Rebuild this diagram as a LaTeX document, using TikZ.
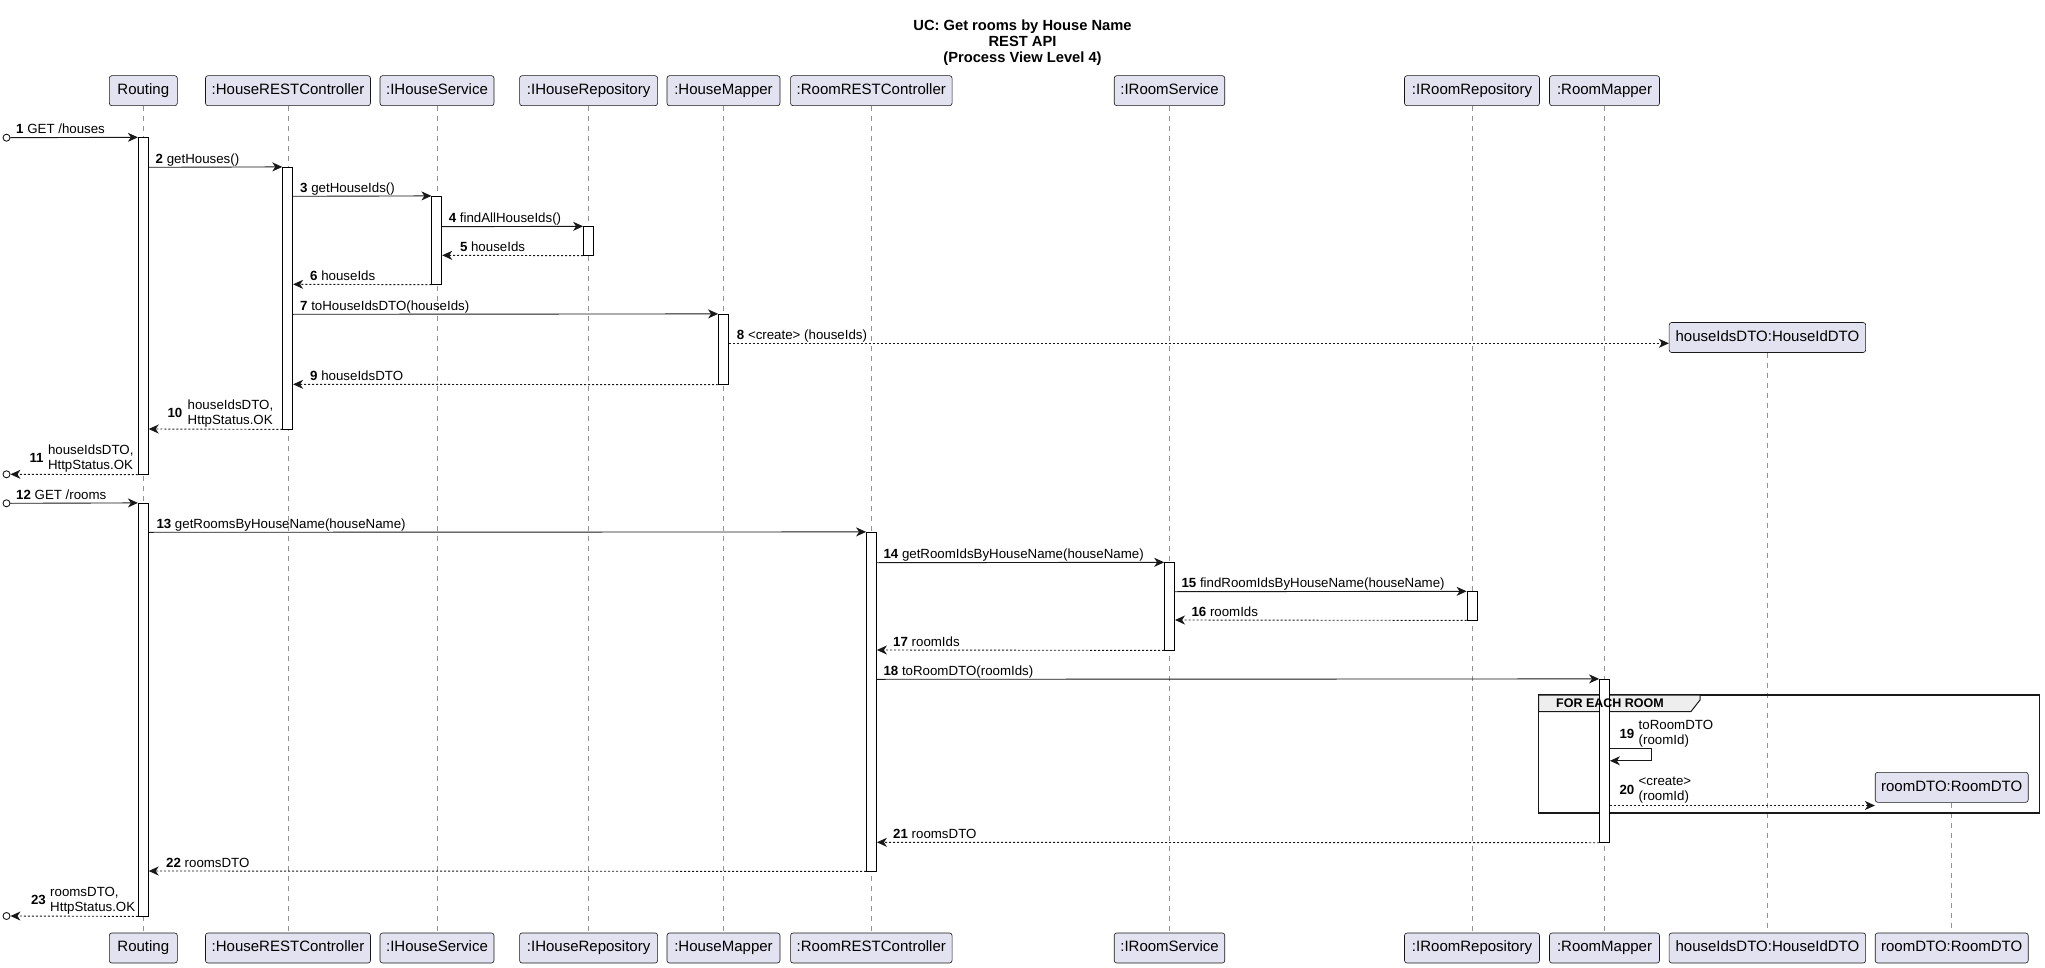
\documentclass[tikz,border=0pt]{standalone}
\usepackage{fontspec}
\setmainfont{Liberation Sans}
\usetikzlibrary{arrows.meta}

\definecolor{partfill}{RGB}{226,226,240}
\definecolor{partline}{RGB}{24,24,24}
\definecolor{tabfill}{RGB}{238,238,238}

% activation bar: name, x, top, bottom
\newcommand{\actbar}[4]{%
    \node[actbox, minimum height={#4-#3}] (#1) at (#2,{(#3+#4)/2}) {};}

\begin{document}
\begin{tikzpicture}[x=1pt, y=-1pt,
    part/.style={draw=partline, fill=partfill, rounded corners=2.5pt,
        line width=0.6pt, minimum height=30pt, inner sep=0pt,
        text height=10.8pt, text depth=3.2pt,
        font=\fontsize{15}{18}\selectfont},
    lifeline/.style={draw=gray!85, dash pattern=on 5pt off 5pt, line width=0.7pt},
    actbox/.style={draw=black, fill=white, minimum width=10pt, inner sep=0pt,
        line width=0.8pt},
    msg/.style={-{Stealth[length=10pt,width=9pt,inset=3pt]}, line width=0.9pt,
        draw=partline},
    ret/.style={msg, dash pattern=on 2pt off 2pt},
    lbl/.style={font=\fontsize{13.3}{15}\selectfont, inner sep=0pt, anchor=base west},
    mlbl/.style={font=\fontsize{13.3}{15}\selectfont, inner sep=0pt,
        anchor=south west, align=left},
    num/.style={font=\fontsize{13.3}{15}\selectfont\bfseries, inner sep=0pt, anchor=east},
    endpt/.style={circle, draw=partline, fill=white, minimum size=7pt, inner sep=0pt,
        line width=0.9pt}]

    \useasboundingbox (0,0) rectangle (2045,968);

    \node[font=\fontsize{14.7}{16.3}\selectfont\bfseries, align=center, anchor=north,
        inner sep=0pt] (title) at (1022.5,19.3)
        {UC: Get rooms by House Name\\REST API\\(Process View Level 4)};

    % participants, top and bottom
    \node[part, minimum width=68] (rout) at (143.3,90.7) {Routing};
    \node[part, minimum width=165] (hctl) at (288,90.7) {:HouseRESTController};
    \node[part, minimum width=114] (hsrv) at (437,90.7) {:IHouseService};
    \node[part, minimum width=138] (hrepo) at (588.6,90.7) {:IHouseRepository};
    \node[part, minimum width=113] (hmap) at (723.5,90.7) {:HouseMapper};
    \node[part, minimum width=161.5] (rctl) at (871.3,90.7) {:RoomRESTController};
    \node[part, minimum width=110.5] (rsrv) at (1169.5,90.7) {:IRoomService};
    \node[part, minimum width=135] (rrepo) at (1472,90.7) {:IRoomRepository};
    \node[part, minimum width=110] (rmap) at (1604.5,90.7) {:RoomMapper};
    \node[part, minimum width=196.5] (hdto) at (1767.4,337.5) {houseIdsDTO:HouseIdDTO};
    \node[part, minimum width=153] (rdto) at (1951.7,787.3) {roomDTO:RoomDTO};

    \node[part, minimum width=68] (routb) at (143.3,948) {Routing};
    \node[part, minimum width=165] (hctlb) at (288,948) {:HouseRESTController};
    \node[part, minimum width=114] (hsrvb) at (437,948) {:IHouseService};
    \node[part, minimum width=138] (hrepob) at (588.6,948) {:IHouseRepository};
    \node[part, minimum width=113] (hmapb) at (723.5,948) {:HouseMapper};
    \node[part, minimum width=161.5] (rctlb) at (871.3,948) {:RoomRESTController};
    \node[part, minimum width=110.5] (rsrvb) at (1169.5,948) {:IRoomService};
    \node[part, minimum width=135] (rrepob) at (1472,948) {:IRoomRepository};
    \node[part, minimum width=110] (rmapb) at (1604.5,948) {:RoomMapper};
    \node[part, minimum width=196.5] (hdtob) at (1767.4,948) {houseIdsDTO:HouseIdDTO};
    \node[part, minimum width=153] (rdtob) at (1951.7,948) {roomDTO:RoomDTO};

    \draw[lifeline] (rout.south) -- (routb.north);
    \draw[lifeline] (hctl.south) -- (hctlb.north);
    \draw[lifeline] (hsrv.south) -- (hsrvb.north);
    \draw[lifeline] (hrepo.south) -- (hrepob.north);
    \draw[lifeline] (hmap.south) -- (hmapb.north);
    \draw[lifeline] (rctl.south) -- (rctlb.north);
    \draw[lifeline] (rsrv.south) -- (rsrvb.north);
    \draw[lifeline] (rrepo.south) -- (rrepob.north);
    \draw[lifeline] (rmap.south) -- (rmapb.north);
    \draw[lifeline] (hdto.south) -- (hdtob.north);
    \draw[lifeline] (rdto.south) -- (rdtob.north);

    % loop frame
    \draw[line width=1.6pt, draw=partline] (1538.5,695) rectangle (2039.5,813);
    \draw[line width=1pt, draw=partline, fill=tabfill] (1538.5,695) -- (1700,695)
        -- (1700,700) -- (1691,711.5) -- (1538.5,711.5) -- cycle;

    % activations
    \actbar{ra1}{143.3}{137.7}{474.3}
    \actbar{ha1}{287.7}{167.3}{429}
    \actbar{sa1}{436.8}{196.3}{284.3}
    \actbar{pa1}{588.5}{226.7}{255.3}
    \actbar{ma1}{723.5}{314.3}{384.3}
    \actbar{ra2}{143.3}{503.3}{916}
    \actbar{ca1}{871.5}{532.3}{871}
    \actbar{qa1}{1169.6}{562.7}{650}
    \actbar{ea1}{1472}{591.7}{620}
    \actbar{ka1}{1604.5}{679.3}{842.3}

    \node[font=\fontsize{12.5}{15}\selectfont\bfseries, anchor=west, inner sep=0pt]
        (loopt) at (1556,703.3) {FOR EACH ROOM};

    % first request
    \node[endpt] (in1) at (6.5,137.7) {};
    \draw[msg] (in1.east) -- (ra1.north west);
    \node[lbl] (l1) at (16,133.7) {\textbf{1} GET /houses};
    \draw[msg] (ra1.east |- 0,167.3) -- (ha1.north west);
    \node[lbl] (l2) at (155.5,163.3) {\textbf{2} getHouses()};
    \draw[msg] (ha1.east |- 0,196.3) -- (sa1.north west);
    \node[lbl] (l3) at (300,192.3) {\textbf{3} getHouseIds()};
    \draw[msg] (sa1.east |- 0,226.7) -- (pa1.north west);
    \node[lbl] (l4) at (448.6,222.7) {\textbf{4} findAllHouseIds()};
    \draw[ret] (pa1.south west) -- (sa1.east |- 0,255.3);
    \node[lbl] (l5) at (459.8,251.3) {\textbf{5} houseIds};
    \draw[ret] (sa1.south west) -- (ha1.east |- 0,284.3);
    \node[lbl] (l6) at (310,280.3) {\textbf{6} houseIds};
    \draw[msg] (ha1.east |- 0,314.3) -- (ma1.north west);
    \node[lbl] (l7) at (300,310.3) {\textbf{7} toHouseIdsDTO(houseIds)};
    \draw[ret] (ma1.east |- 0,343.3) -- (hdto.west |- 0,343.3);
    \node[lbl] (l8) at (736.7,339.3) {\textbf{8} <create> (houseIds)};
    \draw[ret] (ma1.south west) -- (ha1.east |- 0,384.3);
    \node[lbl] (l9) at (310,380.3) {\textbf{9} houseIdsDTO};
    \draw[ret] (ha1.south west) -- (ra1.east |- 0,429);
    \node[mlbl] (l10) at (187.5,427) {houseIdsDTO,\\HttpStatus.OK};
    \node[num] (n10) at ([xshift=-5pt]l10.west) {10};
    \node[endpt] (out11) at (6.5,474.3) {};
    \draw[ret] (ra1.south west) -- (out11.east);
    \node[mlbl] (l11) at (47.8,472.3) {houseIdsDTO,\\HttpStatus.OK};
    \node[num] (n11) at ([xshift=-4pt]l11.west) {11};

    % second request
    \node[endpt] (in12) at (6.5,503.3) {};
    \draw[msg] (in12.east) -- (ra2.north west);
    \node[lbl] (l12) at (16,499.3) {\textbf{12} GET /rooms};
    \draw[msg] (ra2.east |- 0,532.3) -- (ca1.north west);
    \node[lbl] (l13) at (156.3,528.3) {\textbf{13} getRoomsByHouseName(houseName)};
    \draw[msg] (ca1.east |- 0,562.7) -- (qa1.north west);
    \node[lbl] (l14) at (883.3,558.7) {\textbf{14} getRoomIdsByHouseName(houseName)};
    \draw[msg] (qa1.east |- 0,591.7) -- (ea1.north west);
    \node[lbl] (l15) at (1181.3,587.7) {\textbf{15} findRoomIdsByHouseName(houseName)};
    \draw[ret] (ea1.south west) -- (qa1.east |- 0,620);
    \node[lbl] (l16) at (1191.3,616) {\textbf{16} roomIds};
    \draw[ret] (qa1.south west) -- (ca1.east |- 0,650);
    \node[lbl] (l17) at (893,646) {\textbf{17} roomIds};
    \draw[msg] (ca1.east |- 0,679.3) -- (ka1.north west);
    \node[lbl] (l18) at (883.3,675.3) {\textbf{18} toRoomDTO(roomIds)};
    \draw[msg] (ka1.east |- 0,748.3) -- ++(42,0) -- ++(0,12.5) -- (ka1.east |- 0,760.8);
    \node[mlbl] (l19) at (1638.5,747.5) {toRoomDTO\\(roomId)};
    \node[num] (n19) at ([xshift=-4pt]l19.west) {19};
    \draw[ret] (ka1.east |- 0,805.5) -- (rdto.west |- 0,805.5);
    \node[mlbl] (l20) at (1638.5,803) {<create>\\(roomId)};
    \node[num] (n20) at ([xshift=-4pt]l20.west) {20};
    \draw[ret] (ka1.south west) -- (ca1.east |- 0,842.3);
    \node[lbl] (l21) at (893,838.3) {\textbf{21} roomsDTO};
    \draw[ret] (ca1.south west) -- (ra2.east |- 0,871);
    \node[lbl] (l22) at (166,867) {\textbf{22} roomsDTO};
    \node[endpt] (out23) at (6.5,916) {};
    \draw[ret] (ra2.south west) -- (out23.east);
    \node[mlbl] (l23) at (50,914) {roomsDTO,\\HttpStatus.OK};
    \node[num] (n23) at ([xshift=-4pt]l23.west) {23};

\end{tikzpicture}
\end{document}
